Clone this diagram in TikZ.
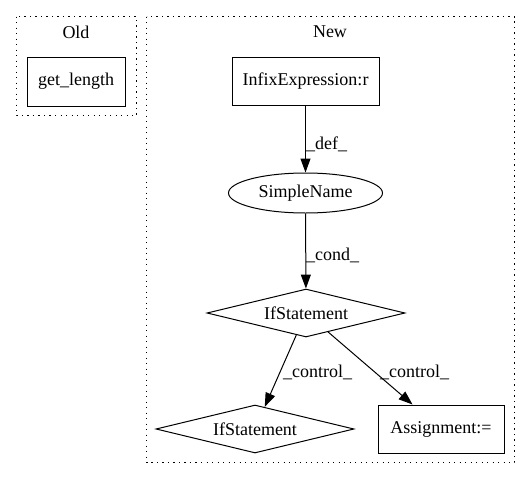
\documentclass[tikz,border=0pt]{standalone}
\usepackage{fontspec}
\setmainfont{Liberation Serif}
\usepackage{tikz}
\usetikzlibrary{arrows.meta,shapes.geometric,positioning}

\begin{document}
\begin{tikzpicture}[x=1pt, y=-1pt,
    font=\fontsize{18pt}{21pt}\selectfont,
    cluster/.style={line width=1pt, dash pattern=on 1.3pt off 4.2pt},
    box/.style={draw, line width=1pt, inner sep=0pt},
    oval/.style={draw, ellipse, line width=1pt, inner sep=0pt, minimum width=154pt, minimum height=40pt},
    decide/.style={draw, diamond, aspect=4, line width=1pt, inner sep=0pt, minimum width=198pt, minimum height=48pt},
    flow/.style={-{Triangle[length=14pt, width=10pt]}, line width=1pt},
    tag/.style={anchor=west, inner sep=1pt}]
    \useasboundingbox (0,0) rectangle (531,480);

    % Old cluster
    \draw[cluster] (16.5,16.5) rectangle (136.5,115.5);
    \node (oldlbl) at (76,32) {Old};
    \node[box, minimum width=98pt, minimum height=49pt] (getlen) at (76,81.5) {get\_length};

    % New cluster
    \draw[cluster] (146.5,16.5) rectangle (514.5,462.5);
    \node (newlbl) at (330,32) {New};
    \node[box, minimum width=147pt, minimum height=48pt] (infix) at (305.5,81) {InfixExpression:r};
    \node[oval] (simple) at (305.5,193) {SimpleName};
    \node[decide] (ifa) at (306,313) {IfStatement};
    \node[decide] (ifb) at (255,429) {IfStatement};
    \node[box, minimum width=126pt, minimum height=48pt] (assign) at (441,429) {Assignment:=};

    % edges
    \draw[flow] (infix) -- (simple);
    \node[tag] (defl) at (305,144) {\_def\_};
    \draw[flow] (simple) -- (ifa);
    \node[tag] (condl) at (305,255) {\_cond\_};
    \draw[flow] (ifa) -- (ifb);
    \node[tag] (ctla) at (282,372) {\_control\_};
    \draw[flow] (ifa) -- (assign);
    \node[tag] (ctlb) at (379,372) {\_control\_};
\end{tikzpicture}
\end{document}
